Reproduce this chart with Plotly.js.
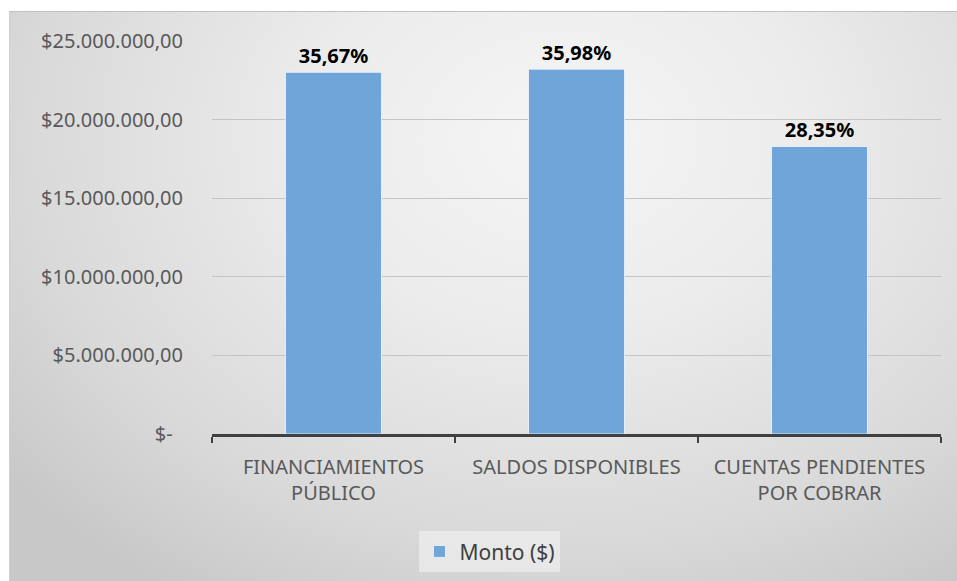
<!DOCTYPE html>
<html>
<head>
<meta charset="utf-8">
<script src="https://cdn.plot.ly/plotly-3.0.1.min.js"></script>
<style>
  html, body { margin: 0; padding: 0; background: #ffffff; }
  #wrap { position: relative; width: 957px; height: 581px; overflow: hidden; }
  #bg { position: absolute; left: 9px; top: 11px; right: 0; bottom: 0;
        background: radial-gradient(ellipse 75% 95% at 58% 22%, #f5f5f5 0%, #ececec 35%, #d9d9d9 75%, #c8c8c8 100%);
        border-top: 1px solid #bfbfbf; border-left: 1px solid #d0d0d0; }
  #chart { position: absolute; left: 0; top: 0; width: 957px; height: 581px; }
</style>
</head>
<body>
<div id="wrap">
  <div id="bg"></div>
  <div id="chart"></div>
</div>
<script>
const categories = ["FINANCIAMIENTOS<br>PÚBLICO", "SALDOS DISPONIBLES", "CUENTAS PENDIENTES<br>POR COBRAR"];
const values = [23010000, 23210000, 18290000];
const labels = ["35,67%", "35,98%", "28,35%"];
const seriesName = "Monto ($)";
const yTickVals = [0, 5000000, 10000000, 15000000, 20000000, 25000000];
const yTickText = ["$-  ", "$5.000.000,00", "$10.000.000,00", "$15.000.000,00", "$20.000.000,00", "$25.000.000,00"];

const FONT = "Noto Sans, Lato, sans-serif";

const trace = {
  type: "bar",
  x: categories,
  y: values,
  name: seriesName,
  text: labels,
  textposition: "outside",
  texttemplate: "<b>%{text}</b>",
  textfont: { family: FONT, size: 20, color: "#000000" },
  cliponaxis: false,
  marker: { color: "#6fa5d8", line: { color: "rgba(235,242,250,0.9)", width: 1 } },
  hoverinfo: "none",
  showlegend: true
};

const layout = {
  width: 957,
  height: 581,
  paper_bgcolor: "rgba(0,0,0,0)",
  plot_bgcolor: "rgba(0,0,0,0)",
  margin: { l: 212, r: 16, t: 41, b: 147 },
  bargap: 0.605,
  font: { family: FONT, color: "#595959", size: 20 },
  xaxis: {
    type: "category",
    showline: true,
    linecolor: "#404040",
    linewidth: 2.5,
    ticks: "outside",
    tickson: "boundaries",
    ticklen: 6,
    tickwidth: 2.5,
    tickcolor: "#404040",
    showgrid: false,
    ticklabelstandoff: 13,
    tickfont: { family: FONT, size: 20, color: "#595959" },
    fixedrange: true
  },
  yaxis: {
    range: [0, 25000000],
    tickvals: yTickVals,
    ticktext: yTickText,
    showgrid: true,
    gridcolor: "#c4c4c4",
    gridwidth: 1,
    zeroline: false,
    showline: false,
    ticks: "",
    ticklabelstandoff: 28,
    tickfont: { family: FONT, size: 20, color: "#595959" },
    fixedrange: true
  },
  legend: {
    orientation: "h",
    xref: "container",
    yref: "container",
    x: 0.512,
    xanchor: "center",
    y: 0.015,
    yanchor: "bottom",
    bgcolor: "rgba(245,245,245,0.55)",
    borderwidth: 0,
    font: { family: FONT, size: 21, color: "#404040" },
    itemwidth: 30
  },
  showlegend: true
};

Plotly.newPlot("chart", [trace], layout, { displayModeBar: false, staticPlot: true });
</script>
</body>
</html>
